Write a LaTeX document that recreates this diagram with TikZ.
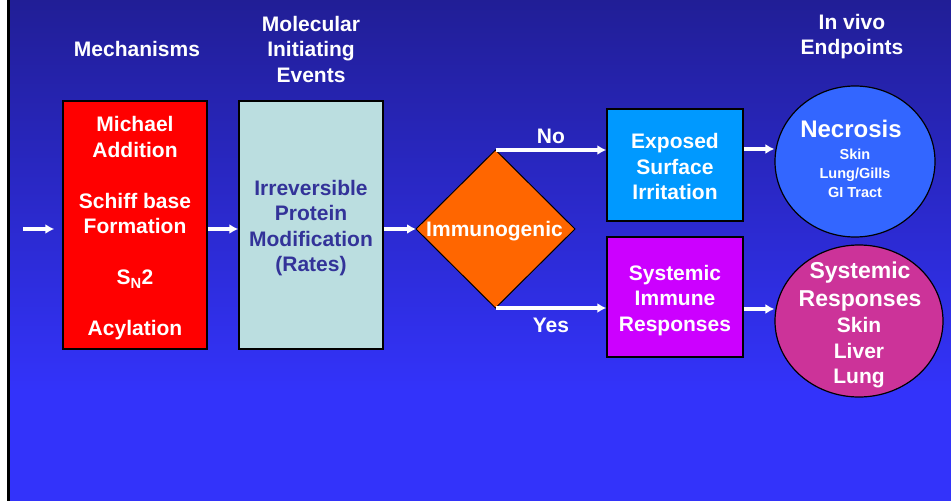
\documentclass[tikz,border=0pt]{standalone}
\usepackage{fontspec}
\setmainfont{Liberation Sans}
\usetikzlibrary{shapes.geometric,arrows.meta,calc}
\definecolor{bgtop}{RGB}{33,30,150}
\definecolor{bgbot}{RGB}{51,51,250}
\definecolor{mechred}{RGB}{255,0,0}
\definecolor{mieblue}{RGB}{187,222,224}
\definecolor{mietext}{RGB}{51,51,153}
\definecolor{diaorange}{RGB}{255,102,0}
\definecolor{expblue}{RGB}{0,153,255}
\definecolor{immpurple}{RGB}{204,0,255}
\definecolor{necblue}{RGB}{51,102,255}
\definecolor{sysmag}{RGB}{204,51,153}
\begin{document}
\begin{tikzpicture}[x=1pt,y=-1pt,
  txt/.style={font=\bfseries\fontsize{21}{25.5}\selectfont, text=white, align=center, inner sep=0pt},
  boxed/.style={draw=black, line width=1.5pt, inner sep=0pt},
  arr/.style={draw=white, line width=3.2pt, -{Latex[length=9pt,width=10pt]}},
  lbl/.style={font=\bfseries\fontsize{21}{25.5}\selectfont, text=white, inner sep=0pt}]
\useasboundingbox (0,0) rectangle (951,501);
\fill[white] (0,0) rectangle (951,501);
\fill[black] (7,0) rectangle (10,501);
\shade[top color=bgtop,bottom color=bgbot] (10,0) rectangle (951,390);
\fill[bgbot] (10,389.5) rectangle (951,501);

% headers
\node[txt] (h1) at (137,48.5) {Mechanisms};
\node[txt] (h2) at (311,49) {Molecular\\Initiating\\Events};
\node[txt] (h3) at (852,36.5) {In vivo\\Endpoints};

% boxes
\node[boxed, fill=mechred, minimum width=144, minimum height=248] (mech) at (135,225) {};
\node[txt] (mecht) at (135,228.5) {Michael\\Addition\\~\\Schiff base\\Formation\\~\\S\textsubscript{N}2\\~\\Acylation};
\node[boxed, fill=mieblue, minimum width=144, minimum height=248] (mie) at (311,225) {};
\node[txt, text=mietext] (miet) at (311,228) {Irreversible\\Protein\\Modification\\(Rates)};

\node[diamond, draw=black, line width=1pt, fill=diaorange, minimum width=159, minimum height=158, inner sep=0pt, outer sep=0pt] (dia) at (495.5,229) {};
\node[txt] (diat) at (494.5,231) {Immunogenic};

\node[boxed, fill=expblue, minimum width=136, minimum height=112] (exp) at (675,165) {};
\node[txt] (expt) at (675,166.5) {Exposed\\Surface\\Irritation};
\node[boxed, fill=immpurple, minimum width=136, minimum height=120] (imm) at (675,297) {};
\node[txt] (immt) at (675,300.5) {Systemic\\Immune\\Responses};

\node[ellipse, draw=black, line width=1.2pt, fill=necblue, minimum width=160, minimum height=151, inner sep=0pt] (nec) at (855,161.5) {};
\node[lbl, font=\bfseries\fontsize{24}{26}\selectfont] (nect) at (851,128.5) {Necrosis};
\node[txt, font=\bfseries\fontsize{14.5}{19}\selectfont] (necs) at (855,173.5) {Skin\\Lung/Gills\\GI Tract};

\node[ellipse, draw=black, line width=1.2pt, fill=sysmag, minimum width=168, minimum height=152, inner sep=0pt] (sys) at (859,321) {};
\node[txt, font=\bfseries\fontsize{23}{27.5}\selectfont] (syst) at (860,286.5) {Systemic\\Responses};
\node[txt, font=\bfseries\fontsize{21}{25.5}\selectfont] (syss) at (859,353) {Skin\\Liver\\Lung};

% connectors
\coordinate (in) at (23,229);
\draw[arr] (in) -- ([xshift=-8pt]mech.west |- dia.west);
\draw[arr] (mech.east |- dia.west) -- (mie.west |- dia.west);
\draw[arr] (mie.east |- dia.west) -- (dia.west);
\draw[arr] (dia.north) -- (dia.north -| exp.west) node[lbl, pos=0.5, above=5pt] (no) {No};
\draw[arr] (dia.south) -- (dia.south -| imm.west) node[lbl, pos=0.5, below=8.5pt] (yes) {Yes};
\draw[arr] ([yshift=16pt]exp.east) -- ([yshift=16pt]exp.east -| nec.west);
\draw[arr] ([yshift=-12pt]imm.east) -- ([yshift=-12pt]imm.east -| sys.west);
\end{tikzpicture}
\end{document}
